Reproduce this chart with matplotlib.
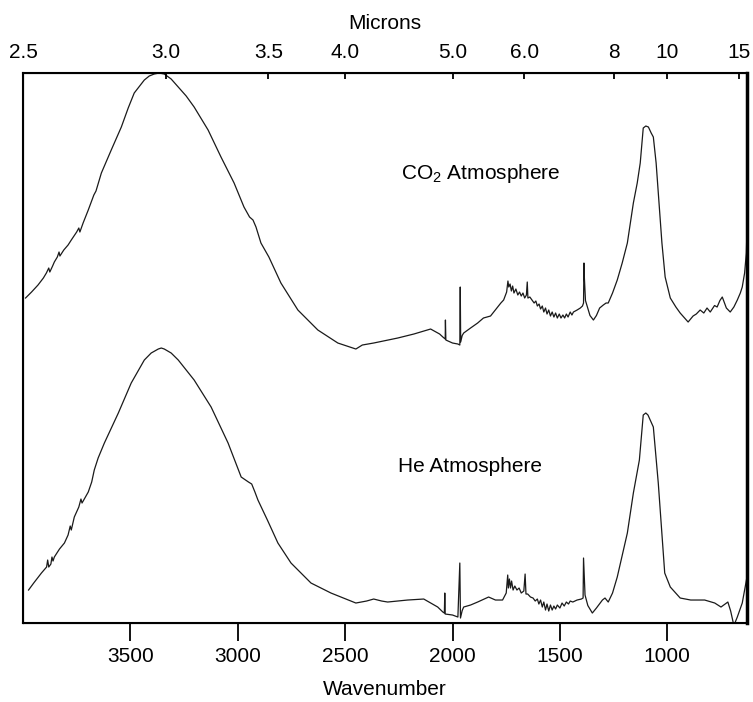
import matplotlib
matplotlib.use("Agg")
import matplotlib.pyplot as plt

plt.rcParams['font.family'] = ['Liberation Sans', 'DejaVu Sans']
plt.rcParams['mathtext.fontset'] = 'custom'
plt.rcParams['mathtext.rm'] = 'Liberation Sans'
plt.rcParams['mathtext.it'] = 'Liberation Sans:italic'

# spectre sous CO2 (nombre d'onde, absorbance arbitraire)
co2_wn = [3988, 3960, 3930, 3905, 3891, 3880, 3875, 3862, 3854, 3840, 3832, 3828,
          3810, 3790, 3775, 3750, 3740, 3735, 3720, 3696, 3670, 3660, 3635, 3589,
          3542, 3510, 3482, 3435, 3412, 3389, 3366, 3342, 3310, 3277, 3240, 3203,
          3138, 3078, 3017, 2971, 2945,
          2929, 2915, 2892, 2855, 2799, 2720, 2627, 2534, 2450, 2420, 2367, 2300,
          2255, 2180, 2102, 2060, 2045, 2034, 2033, 2031, 2000, 1975, 1966, 1964,
          1962, 1955, 1948, 1916, 1883, 1856, 1823, 1790, 1775, 1762, 1748, 1742,
          1738, 1732, 1726, 1720, 1714, 1705, 1696, 1688, 1680, 1672, 1664, 1656,
          1652, 1649, 1640, 1630, 1620, 1612, 1605, 1597, 1590, 1582, 1575, 1567,
          1560, 1552, 1544, 1536, 1528, 1520, 1512, 1503, 1495, 1486, 1478, 1470,
          1462, 1452, 1444, 1437, 1420, 1405, 1395, 1390, 1388, 1386, 1381, 1372,
          1360, 1344, 1330, 1315, 1298, 1285, 1275, 1255, 1233, 1210, 1186, 1158,
          1140, 1126, 1112, 1100, 1088, 1075, 1065, 1052, 1042, 1025, 1010, 986,
          960, 940, 903, 880, 865, 847, 830, 815, 800, 780, 768, 755, 744, 725,
          707, 690, 674, 660, 651, 640, 632, 629]
co2_val = [0.650, 0.662, 0.676, 0.690, 0.700, 0.710, 0.702, 0.714, 0.722, 0.732, 0.742, 0.734,
           0.746, 0.756, 0.766, 0.782, 0.790, 0.782, 0.800, 0.826, 0.856, 0.864, 0.900, 0.946,
           0.992, 1.030, 1.060, 1.086, 1.094, 1.098, 1.100, 1.098, 1.088, 1.072, 1.054, 1.032,
           0.986, 0.932, 0.880, 0.832, 0.812,
           0.806, 0.792, 0.760, 0.732, 0.680, 0.626, 0.586, 0.560, 0.548, 0.556, 0.560, 0.566,
           0.570, 0.578, 0.588, 0.578, 0.572, 0.568, 0.606, 0.566, 0.560, 0.558, 0.556, 0.672,
           0.562, 0.575, 0.580, 0.590, 0.600, 0.610, 0.614, 0.632, 0.640, 0.646, 0.662, 0.684,
           0.672, 0.678, 0.664, 0.674, 0.660, 0.668, 0.656, 0.662, 0.654, 0.660, 0.650, 0.656,
           0.682, 0.650, 0.652, 0.646, 0.640, 0.644, 0.634, 0.638, 0.628, 0.634, 0.622, 0.630,
           0.618, 0.626, 0.614, 0.622, 0.612, 0.620, 0.610, 0.618, 0.610, 0.616, 0.610, 0.618,
           0.612, 0.622, 0.616, 0.622, 0.626, 0.630, 0.634, 0.640, 0.720, 0.690, 0.645, 0.632,
           0.615, 0.606, 0.615, 0.630, 0.636, 0.640, 0.640, 0.660, 0.686, 0.720, 0.760, 0.840,
           0.880, 0.920, 0.990, 0.994, 0.992, 0.980, 0.972, 0.920, 0.860, 0.760, 0.692, 0.650,
           0.632, 0.620, 0.602, 0.614, 0.618, 0.626, 0.620, 0.630, 0.622, 0.635, 0.632, 0.645, 0.652, 0.630,
           0.622, 0.632, 0.646, 0.660, 0.672, 0.700, 0.740, 0.786]

# spectre sous He
he_wn = [3974, 3950, 3914, 3890, 3885, 3880, 3870, 3865, 3860, 3854, 3830, 3807,
         3790, 3780, 3775, 3761, 3740, 3730, 3725, 3696, 3680, 3668, 3650, 3621,
         3556, 3496, 3435, 3403, 3370, 3356, 3342, 3310, 3277, 3203, 3124, 3045, 2984, 2950, 2935,
         2920, 2906, 2862, 2813, 2752, 2659, 2566, 2450, 2400, 2367, 2330, 2302,
         2209, 2134, 2069, 2045, 2038, 2036, 2034, 2000, 1975, 1966, 1963, 1955,
         1948, 1916, 1883, 1832, 1800, 1767, 1750, 1743, 1740, 1735, 1730, 1725,
         1718, 1710, 1700, 1690, 1680, 1668, 1662, 1658, 1650, 1637, 1625, 1615,
         1605, 1598, 1590, 1582, 1575, 1567, 1560, 1552, 1544, 1536, 1528, 1520,
         1512, 1500, 1490, 1480, 1470, 1460, 1452, 1440, 1420, 1400, 1392, 1390,
         1387, 1383, 1370, 1349, 1330, 1302, 1290, 1275, 1255, 1233, 1186, 1158,
         1130, 1112, 1100, 1090, 1065, 1042, 1012, 986, 940, 891, 826, 779, 750, 718,
         705, 690, 674, 651, 629]
he_val = [0.066, 0.080, 0.100, 0.112, 0.126, 0.112, 0.118, 0.132, 0.124, 0.132, 0.148, 0.160,
          0.176, 0.194, 0.186, 0.212, 0.232, 0.248, 0.240, 0.262, 0.282, 0.306, 0.330, 0.360,
          0.420, 0.480, 0.526, 0.540, 0.548, 0.550, 0.548, 0.540, 0.526, 0.486, 0.432, 0.360, 0.292, 0.282, 0.278,
          0.262, 0.246, 0.206, 0.160, 0.120, 0.080, 0.060, 0.040, 0.044, 0.048, 0.044, 0.042,
          0.046, 0.048, 0.032, 0.022, 0.020, 0.060, 0.018, 0.016, 0.012, 0.120, 0.010, 0.025,
          0.032, 0.036, 0.042, 0.052, 0.046, 0.046, 0.060, 0.096, 0.070, 0.088, 0.070, 0.084,
          0.066, 0.074, 0.066, 0.070, 0.060, 0.064, 0.098, 0.058, 0.058, 0.052, 0.050, 0.044,
          0.048, 0.038, 0.046, 0.032, 0.042, 0.026, 0.038, 0.024, 0.036, 0.026, 0.034, 0.028,
          0.036, 0.030, 0.040, 0.034, 0.042, 0.038, 0.044, 0.042, 0.046, 0.048, 0.050, 0.130,
          0.100, 0.056, 0.035, 0.020, 0.030, 0.046, 0.050, 0.042, 0.060, 0.092, 0.180, 0.260,
          0.326, 0.416, 0.420, 0.416, 0.392, 0.280, 0.100, 0.072, 0.050, 0.046, 0.046, 0.040, 0.032, 0.042,
          0.024, -0.005, 0.012, 0.040, 0.092]

wn_ticks = [3500, 3000, 2500, 2000, 1500, 1000]
micron_ticks = [2.5, 3.0, 3.5, 4.0, 5.0, 6.0, 8, 10, 15]
micron_labels = ["2.5", "3.0", "3.5", "4.0", "5.0", "6.0", "8", "10", "15"]

fig = plt.figure(figsize=(7.53, 7.02), dpi=100)
ax = fig.add_axes([0.0305, 0.1125, 0.9615, 0.7835])

ax.plot(co2_wn, co2_val, color='#1a1a1a', lw=0.9)
ax.plot(he_wn, he_val, color='#1a1a1a', lw=0.9)

ax.set_xlim(4000, 629)
ax.set_ylim(0, 1.1)
ax.set_yticks([])
ax.set_xticks(wn_ticks)
ax.set_xticklabels([str(t) for t in wn_ticks], fontsize=15)
ax.tick_params(axis='x', direction='out', length=13, width=1.3, pad=4)
ax.set_xlabel("Wavenumber", fontsize=15, labelpad=10)
for s in ax.spines.values():
    s.set_linewidth(1.5)
ax.spines['right'].set_linewidth(2.5)

# axe du haut en microns
ax2 = ax.twiny()
ax2.set_xlim(ax.get_xlim())
ax2.set_xticks([1e4 / m for m in micron_ticks])
ax2.set_xticklabels(micron_labels, fontsize=15)
ax2.tick_params(axis='x', direction='in', length=4, width=1.3, pad=8)
ax2.set_xlabel("Microns", fontsize=15, labelpad=10)

ax.text(2241, 0.90, "CO$_2$ Atmosphere", fontsize=15, ha='left', va='center')
ax.text(2255, 0.314, "He Atmosphere", fontsize=15, ha='left', va='center')

fig.savefig("out.png", dpi=100)
